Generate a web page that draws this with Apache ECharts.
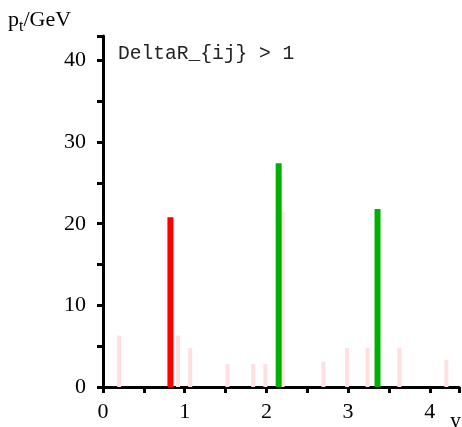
<!DOCTYPE html>
<html>
<head>
<meta charset="utf-8">
<script src="https://cdn.jsdelivr.net/npm/echarts@6/dist/echarts.min.js"></script>
<style>
  html, body { margin: 0; padding: 0; background: #fff; }
  #chart { width: 462px; height: 427px; }
</style>
</head>
<body>
<div id="chart"></div>
<script>
// faint background bars: [y, pt]
const pinkBars = [
  [0.21, 6.3], [0.84, 20.8], [0.93, 6.3], [1.08, 4.8], [1.535, 2.8], [1.85, 2.8],
  [2.0, 2.8], [2.21, 21.4], [2.71, 3.1], [3.0, 4.8], [3.25, 4.8], [3.64, 4.8], [4.215, 3.3]
];
const redBars = [[0.825, 20.8]];
const greenBars = [[2.15, 27.4], [3.36, 21.8]];

const serif = '"Liberation Serif", "DejaVu Serif", serif';

let chart = echarts.init(document.getElementById('chart'));
let option = {
  animation: false,
  grid: { left: 103, right: 0, top: 36, bottom: 40 },
  xAxis: {
    type: 'value', min: 0, max: 4.357, interval: 1,
    axisLine: { show: true, onZero: false, lineStyle: { color: '#000', width: 3 } },
    axisTick: { show: true, length: 6, lineStyle: { color: '#000', width: 3 } },
    minorTick: { show: true, splitNumber: 2, length: 6, lineStyle: { color: '#000', width: 3 } },
    splitLine: { show: false },
    axisLabel: { color: '#000', fontFamily: serif, fontSize: 22, margin: 14,
      formatter: v => (v > 4.2 ? '' : v) }
  },
  yAxis: {
    type: 'value', min: 0, max: 43, interval: 10,
    axisLine: { show: true, lineStyle: { color: '#000', width: 3 } },
    axisTick: { show: true, length: 6, lineStyle: { color: '#000', width: 3 } },
    minorTick: { show: true, splitNumber: 2, length: 6, lineStyle: { color: '#000', width: 3 } },
    splitLine: { show: false },
    axisLabel: { color: '#000', fontFamily: serif, fontSize: 22, margin: 17,
      formatter: v => (v > 40 ? '' : v) }
  },
  series: [
    { type: 'bar', data: pinkBars, barWidth: 4, barGap: '-100%', itemStyle: { color: '#ffe0e0' }, z: 1 },
    { type: 'bar', data: redBars, barWidth: 6, barGap: '-100%', itemStyle: { color: '#ff0000' }, z: 2 },
    { type: 'bar', data: greenBars, barWidth: 6, barGap: '-100%', itemStyle: { color: '#00b000' }, z: 2 }
  ],
  graphic: [
    {
      type: 'text', left: 8, top: 9,
      style: {
        text: '{a|p}{b|t}{a|/GeV}',
        rich: {
          a: { fontFamily: serif, fontSize: 22, fill: '#000' },
          b: { fontFamily: serif, fontSize: 16, fill: '#000', padding: [14, 0, 0, 0] }
        }
      }
    },
    {
      type: 'text', left: 118, top: 44,
      style: { text: 'DeltaR_{ij} > 1', fontFamily: '"Liberation Mono", "DejaVu Sans Mono", monospace', fontSize: 19.6, fill: '#222' }
    },
    {
      type: 'text', left: 450, top: 410,
      style: { text: 'y', fontFamily: serif, fontSize: 22, fill: '#000' }
    }
  ]
};
chart.setOption(option);
</script>
</body>
</html>
